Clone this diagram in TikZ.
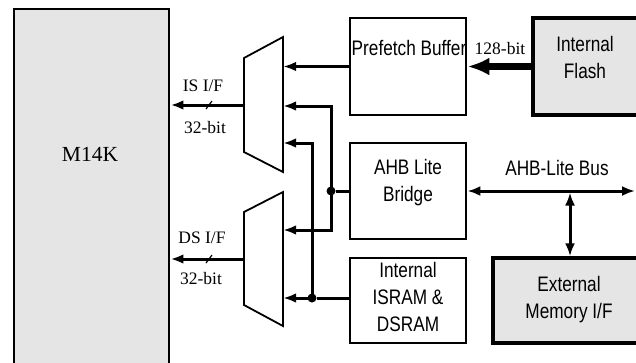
\documentclass[tikz,border=0pt]{standalone}
\usepackage{fontspec}
\setmainfont{Liberation Serif}
\newfontfamily\narrowsf[FakeStretch=0.82]{Liberation Sans}
\usetikzlibrary{arrows.meta}

\begin{document}
\begin{tikzpicture}[x=1pt,y=-1pt,
  blk/.style={draw, line width=2.8pt, inner sep=0pt},
  grayblk/.style={blk, fill=gray!20, line width=3.4pt},
  blktext/.style={font=\narrowsf\fontsize{21}{27}\selectfont, align=center},
  lbl/.style={font=\fontsize{17.5}{20}\selectfont},
  wire/.style={line width=3pt},
  bus/.style={wire, -{Latex[length=13pt,width=9.5pt]}},
  dbus/.style={wire, {Latex[length=13pt,width=10pt]}-{Latex[length=13pt,width=10pt]}},
  muxline/.style={line width=1.8pt, fill=white},
  dot/.style={circle, fill, inner sep=0pt, minimum size=9pt}]

\useasboundingbox (0,0) rectangle (636,362);
\clip (0,0) rectangle (636,362);

% core
\node[draw, line width=2.4pt, fill=gray!20, minimum width=155pt, minimum height=370pt,
      anchor=north west, inner sep=0pt] (cpu) at (13,8) {};
\node[font=\fontsize{21.5}{24}\selectfont] (cputxt) at (90,154) {M14K};

% blocks
\node[blk, minimum width=116pt, minimum height=97pt] (pf) at (408,66.5) {};
\node[blktext] (pftxt) at (409,48) {Prefetch Buffer};
\node[grayblk, minimum width=117pt, minimum height=97pt] (fl) at (591.5,66.5) {};
\node[blktext] (fltxt) at (585,57) {Internal\\Flash};
\node[blk, minimum width=116pt, minimum height=96pt] (br) at (408,191) {};
\node[blktext] (brtxt) at (408,183) {AHB Lite\\Bridge};
\node[blk, minimum width=116pt, minimum height=85pt] (sr) at (408,300.5) {};
\node[blktext] (srtxt) at (408,297) {Internal\\ISRAM \&\\DSRAM};
\node[grayblk, minimum width=157pt, minimum height=85pt] (em) at (571.5,300.5) {};
\node[blktext] (emtxt) at (569,300) {External\\Memory I/F};

% muxes
\draw[muxline] (244,58) -- (283,37) -- (283,172) -- (244,152) -- cycle;
\draw[muxline] (244,212) -- (283,192) -- (283,326) -- (244,305) -- cycle;
\coordinate (isout) at (244,105);
\coordinate (isa) at (283,66.5);
\coordinate (isb) at (283,106);
\coordinate (isc) at (283,143);
\coordinate (dsout) at (244,259);
\coordinate (dsa) at (283,230);
\coordinate (dsb) at (283,298);

% junctions
\node[dot] (j1) at (331,191) {};
\node[dot] (j2) at (312,298) {};

% mux inputs
\draw[bus] (pf.west) -- (isa);
\draw[wire] (br.west) -- (j1);
\draw[bus] (j1.center) |- (isb);
\draw[bus] (j1.center) |- (dsa);
\draw[wire] (j2 -| sr.west) -- (j2);
\draw[bus] (j2.center) |- (isc);
\draw[bus] (j2.center) -- (dsb);

% core interfaces
\draw[bus] (isout) -- (isout -| cpu.east);
\draw[bus] (dsout) -- (dsout -| cpu.east);
\coordinate (isslash) at (209,105);
\coordinate (dsslash) at (209,259);
\draw[line width=1.2pt] (isslash) ++(-3,4) -- ++(6,-8);
\draw[line width=1.2pt] (dsslash) ++(-3,4) -- ++(6,-8);
\node[lbl] (isif) at (203,86) {IS I/F};
\node[lbl] (isw) at (205,128) {32-bit};
\node[lbl] (dsif) at (202,238) {DS I/F};
\node[lbl] (dsw) at (201,279) {32-bit};

% flash to prefetch
\draw[line width=7pt, -{Latex[length=22pt,width=18pt]}] (fl.west) -- (pf.east);
\node[lbl] (flw) at (500,49) {128-bit};

% bus
\coordinate (busend) at (635,191);
\coordinate (tap) at (570,191);
\draw[dbus] (br.east) -- (busend);
\draw[dbus] ([yshift=-1.5pt]tap) -- (tap |- em.north);
\node[blktext] (bustxt) at (557,168) {AHB-Lite Bus};

\end{tikzpicture}
\end{document}
